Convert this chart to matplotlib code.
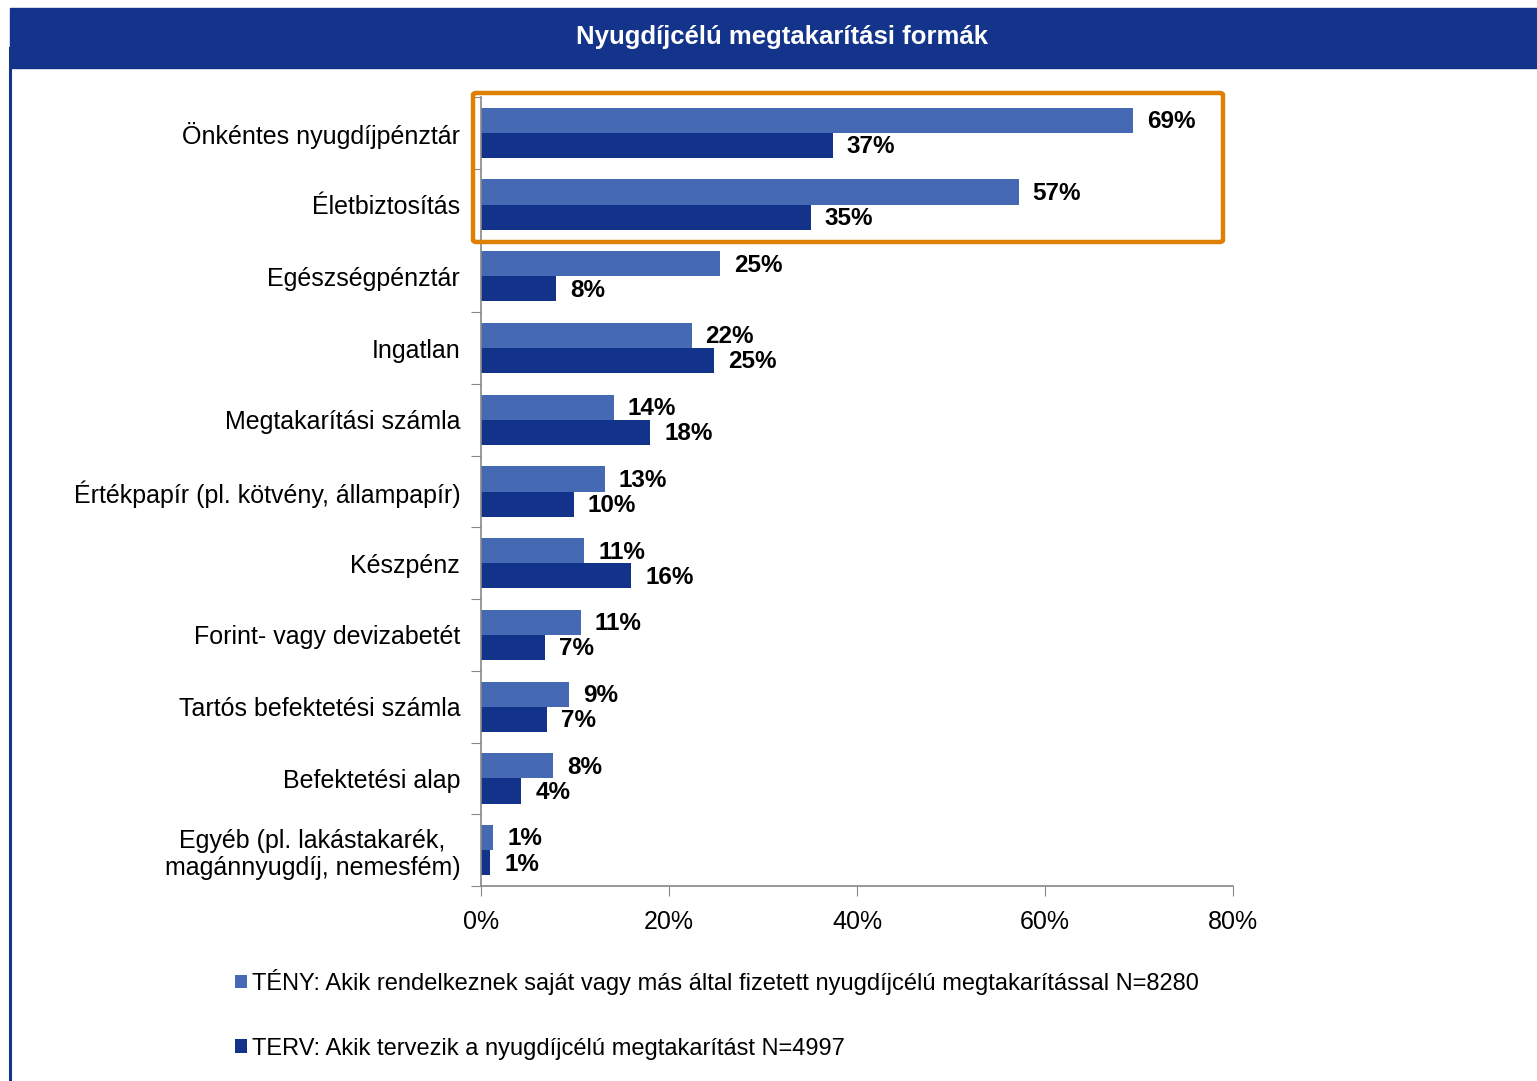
import numpy as np
import matplotlib
matplotlib.use('Agg')
import matplotlib.pyplot as plt
from matplotlib.patches import Rectangle, FancyBboxPatch
from matplotlib.lines import Line2D

plt.rcParams['font.family'] = ['Liberation Sans', 'DejaVu Sans']

# Data (percent)
categories = ['Önkéntes nyugdíjpénztár', 'Életbiztosítás', 'Egészségpénztár',
              'Ingatlan', 'Megtakarítási számla',
              'Értékpapír (pl. kötvény, állampapír)', 'Készpénz',
              'Forint- vagy devizabetét', 'Tartós befektetési számla',
              'Befektetési alap',
              'Egyéb (pl. lakástakarék,\nmagánnyugdíj, nemesfém)']
teny = [69.4, 57.2, 25.4, 22.4, 14.1, 13.2, 11.0, 10.6, 9.4, 7.7, 1.3]
terv = [37.4, 35.1, 8.0, 24.8, 18.0, 9.9, 16.0, 6.8, 7.0, 4.3, 1.0]
teny_label = 'TÉNY: Akik rendelkeznek saját vagy más által fizetett nyugdíjcélú megtakarítással N=8280'
terv_label = 'TERV: Akik tervezik a nyugdíjcélú megtakarítást N=4997'
title = 'Nyugdíjcélú megtakarítási formák'

c_teny = '#4569B3'
c_terv = '#13338A'
band = '#13348A'

W, H = 1537, 1081
fig = plt.figure(figsize=(W / 100, H / 100), dpi=100)
fig.patch.set_facecolor('white')

# title band and left border
fig.patches.append(Rectangle((10 / W, 1 - 68 / H), (W - 10) / W, 60 / H,
                             transform=fig.transFigure, color=band, zorder=0))
fig.lines.append(Line2D([9.5 / W, 9.5 / W], [0, 1 - 48 / H], transform=fig.transFigure,
                        color=band, lw=2.2))
fig.text(782 / W, 1 - 37 / H, title, color='white', fontsize=18.5, fontweight='bold',
         ha='center', va='center')

ax = fig.add_axes([481 / W, 1 - 886 / H, (1233 - 481) / W, (886 - 97) / H])
y = np.arange(len(categories))
h = 0.35
b1 = ax.barh(y - h / 2, teny, height=h, color=c_teny, label=teny_label)
b2 = ax.barh(y + h / 2, terv, height=h, color=c_terv, label=terv_label)

for bars, vals in ((b1, teny), (b2, terv)):
    for rect, v in zip(bars, vals):
        ax.annotate('%d%%' % round(v), (v, rect.get_y() + rect.get_height() / 2),
                    xytext=(10, -1), textcoords='offset points', va='center', ha='left',
                    fontsize=17.5, fontweight='bold', color='black')

ax.set_xlim(0, 80)
ax.set_ylim(len(categories) - 0.5, -0.5)
ax.set_xticks([0, 20, 40, 60, 80])
ax.set_xticklabels(['0%', '20%', '40%', '60%', '80%'], fontsize=18)
ax.set_yticks(np.arange(len(categories) + 1) - 0.5)
ax.set_yticklabels([])
ax.set_yticks(y, minor=True)
ax.set_yticklabels(categories, minor=True, fontsize=18, multialignment='center')
ax.tick_params(axis='y', which='minor', length=0, pad=15)
ax.tick_params(axis='y', which='major', length=7, color='#888888', direction='out')
ax.tick_params(axis='x', length=7, color='#888888', direction='out', pad=10)
for s in ('top', 'right'):
    ax.spines[s].set_visible(False)
for s in ('left', 'bottom'):
    ax.spines[s].set_color('#888888')
    ax.spines[s].set_linewidth(1.2)

# orange highlight frame around the first two categories
fig.patches.append(FancyBboxPatch((473 / W, 1 - 242 / H), (1223 - 473) / W, (242 - 93) / H,
                                  boxstyle='round,pad=0,rounding_size=0.002',
                                  transform=fig.transFigure, fill=False,
                                  edgecolor='#DF8000', lw=3.2, zorder=5))

fig.legend(handles=[b1, b2], loc='upper left', bbox_to_anchor=(235 / W, 1 - 969 / H),
           frameon=False, fontsize=17, handlelength=0.5, handleheight=0.5,
           handletextpad=0.2, labelspacing=1.8, borderaxespad=0, borderpad=0)

fig.savefig('out.png', dpi=100)
